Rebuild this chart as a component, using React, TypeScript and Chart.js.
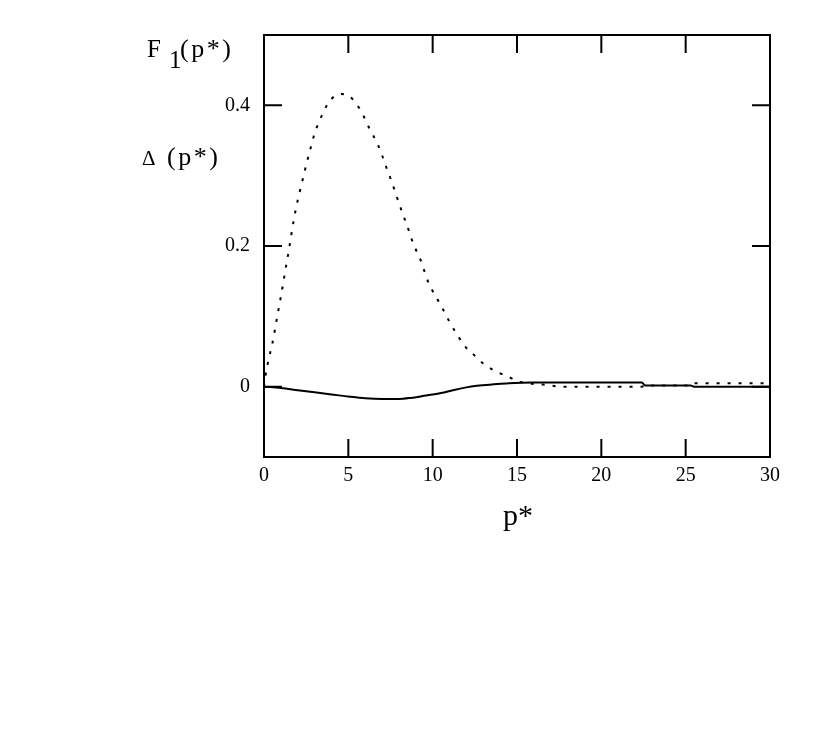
import React, { useEffect, useRef } from "react";
import { Chart, registerables } from "chart.js";

Chart.register(...registerables);

// ---- data ----
const xTicks = [0, 5, 10, 15, 20, 25, 30];
const yTicks = [0, 0.2, 0.4];

const f1X = [0, 0.1, 0.25, 0.5, 0.75, 1.0, 1.25, 1.5, 1.75, 2.0, 2.25, 2.5, 2.75, 3.0, 3.25, 3.5, 3.75, 4.0, 4.3, 4.6, 4.9, 5.2, 5.5, 5.75, 6.0, 6.25, 6.5, 6.75, 7.0, 7.25, 7.5, 7.75, 8.0, 8.25, 8.5, 8.75, 9.0, 9.25, 9.5, 9.75, 10.0, 10.5, 11.0, 11.5, 12.0, 12.5, 13.0, 13.5, 14.0, 14.5, 15.0, 15.6, 16.5, 17.8, 22.4, 22.6, 25.3, 25.5, 30];
const f1Y = [0, 0.017, 0.036, 0.062, 0.095, 0.128, 0.163, 0.198, 0.235, 0.265, 0.29, 0.315, 0.338, 0.36, 0.376, 0.389, 0.401, 0.409, 0.415, 0.416, 0.415, 0.41, 0.401, 0.392, 0.38, 0.367, 0.356, 0.344, 0.329, 0.312, 0.296, 0.279, 0.261, 0.244, 0.228, 0.21, 0.195, 0.182, 0.165, 0.148, 0.136, 0.115, 0.092, 0.072, 0.055, 0.044, 0.033, 0.025, 0.019, 0.014, 0.008, 0.005, 0.003, 0.0, 0.0, 0.0015, 0.0015, 0.005, 0.005];

const deltaX = [0, 1, 2, 3, 4, 5, 6, 7, 8, 8.7, 9.5, 10.5, 11.2, 12, 12.5, 13.5, 14.5, 16, 22.4, 22.6, 25.3, 25.5, 30];
const deltaY = [0, -0.002, -0.005, -0.008, -0.011, -0.014, -0.0165, -0.0175, -0.0175, -0.016, -0.013, -0.009, -0.005, -0.001, 0.001, 0.003, 0.005, 0.006, 0.006, 0.0015, 0.0015, 0, 0];

const SERIF = '"Liberation Serif", "Times New Roman", serif';

function drawSpaced(ctx: any, text: string, x: number, y: number, gap: number) {
  let cx = x;
  for (const ch of text) {
    ctx.fillText(ch, cx, y);
    cx += ctx.measureText(ch).width + gap;
  }
}

const framePlugin = {
  id: "frameAndLabels",
  afterDraw(chart: any) {
    const { ctx, chartArea: a, scales } = chart;
    const L = 18;
    ctx.save();
    ctx.strokeStyle = "#000";
    ctx.lineWidth = 2;
    ctx.strokeRect(a.left, a.top, a.right - a.left, a.bottom - a.top);
    ctx.beginPath();
    for (const v of xTicks) {
      const px = scales.x.getPixelForValue(v);
      ctx.moveTo(px, a.bottom);
      ctx.lineTo(px, a.bottom - L);
      ctx.moveTo(px, a.top);
      ctx.lineTo(px, a.top + L);
    }
    for (const v of yTicks) {
      const py = scales.y.getPixelForValue(v);
      ctx.moveTo(a.left, py);
      ctx.lineTo(a.left + L, py);
      ctx.moveTo(a.right, py);
      ctx.lineTo(a.right - L, py);
    }
    ctx.stroke();

    ctx.fillStyle = "#000";
    ctx.textBaseline = "alphabetic";
    ctx.textAlign = "left";
    // F1(p*)
    ctx.font = `25px ${SERIF}`;
    ctx.fillText("F", a.left - 117, a.top + 22);
    ctx.fillText("1", a.left - 95, a.top + 33);
    ctx.font = `26px ${SERIF}`;
    drawSpaced(ctx, "(p*)", a.left - 84, a.top + 22, 2.5);
    // Δ(p*)
    ctx.font = `21px ${SERIF}`;
    ctx.fillText("Δ", a.left - 122, a.top + 130);
    ctx.font = `26px ${SERIF}`;
    drawSpaced(ctx, "(p*)", a.left - 97, a.top + 130, 2.5);
    // x title
    ctx.textAlign = "center";
    ctx.font = `30px ${SERIF}`;
    ctx.fillText("p*", (a.left + a.right) / 2 + 1, a.bottom + 68);
    ctx.restore();
  },
};

export default function App() {
  const ref = useRef<HTMLCanvasElement>(null);
  useEffect(() => {
    if (!ref.current) return;
    const chart = new Chart(ref.current, {
      type: "line",
      data: {
        datasets: [
          {
            label: "F1(p*)",
            data: f1X.map((x, i) => ({ x, y: f1Y[i] })),
            borderColor: "#000",
            borderWidth: 2,
            borderDash: [3, 8],
            pointRadius: 0,
            cubicInterpolationMode: "monotone",
            fill: false,
          },
          {
            label: "Δ(p*)",
            data: deltaX.map((x, i) => ({ x, y: deltaY[i] })),
            borderColor: "#000",
            borderWidth: 2,
            pointRadius: 0,
            cubicInterpolationMode: "monotone",
            fill: false,
          },
        ],
      },
      options: {
        animation: false,
        responsive: false,
        devicePixelRatio: 1,
        layout: { padding: { top: 27, right: 49, left: 0, bottom: 0 } },
        plugins: { legend: { display: false }, tooltip: { enabled: false } },
        scales: {
          x: {
            type: "linear",
            min: 0,
            max: 30,
            afterBuildTicks: (s: any) => {
              s.ticks = xTicks.map((v) => ({ value: v }));
            },
            afterFit: (s: any) => {
              s.height = 275;
            },
            grid: { display: false, drawTicks: false },
            border: { display: false },
            ticks: {
              color: "#000",
              font: { family: SERIF, size: 20 },
              padding: 7,
              maxRotation: 0,
              autoSkip: false,
            },
          },
          y: {
            type: "linear",
            min: -0.1,
            max: 0.5,
            afterBuildTicks: (s: any) => {
              s.ticks = yTicks.map((v) => ({ value: v }));
            },
            afterFit: (s: any) => {
              s.width = 256;
            },
            grid: { display: false, drawTicks: false },
            border: { display: false },
            ticks: {
              color: "#000",
              font: { family: SERIF, size: 20 },
              padding: 14,
              autoSkip: false,
              callback: (v: any) => (v === 0 ? "0" : String(Number(v).toFixed(1))),
            },
          },
        },
      },
      plugins: [framePlugin],
    });
    return () => chart.destroy();
  }, []);
  return (
    <div style={{ width: 811, height: 724 }}>
      <canvas ref={ref} width={811} height={724} style={{ display: "block" }} />
    </div>
  );
}
